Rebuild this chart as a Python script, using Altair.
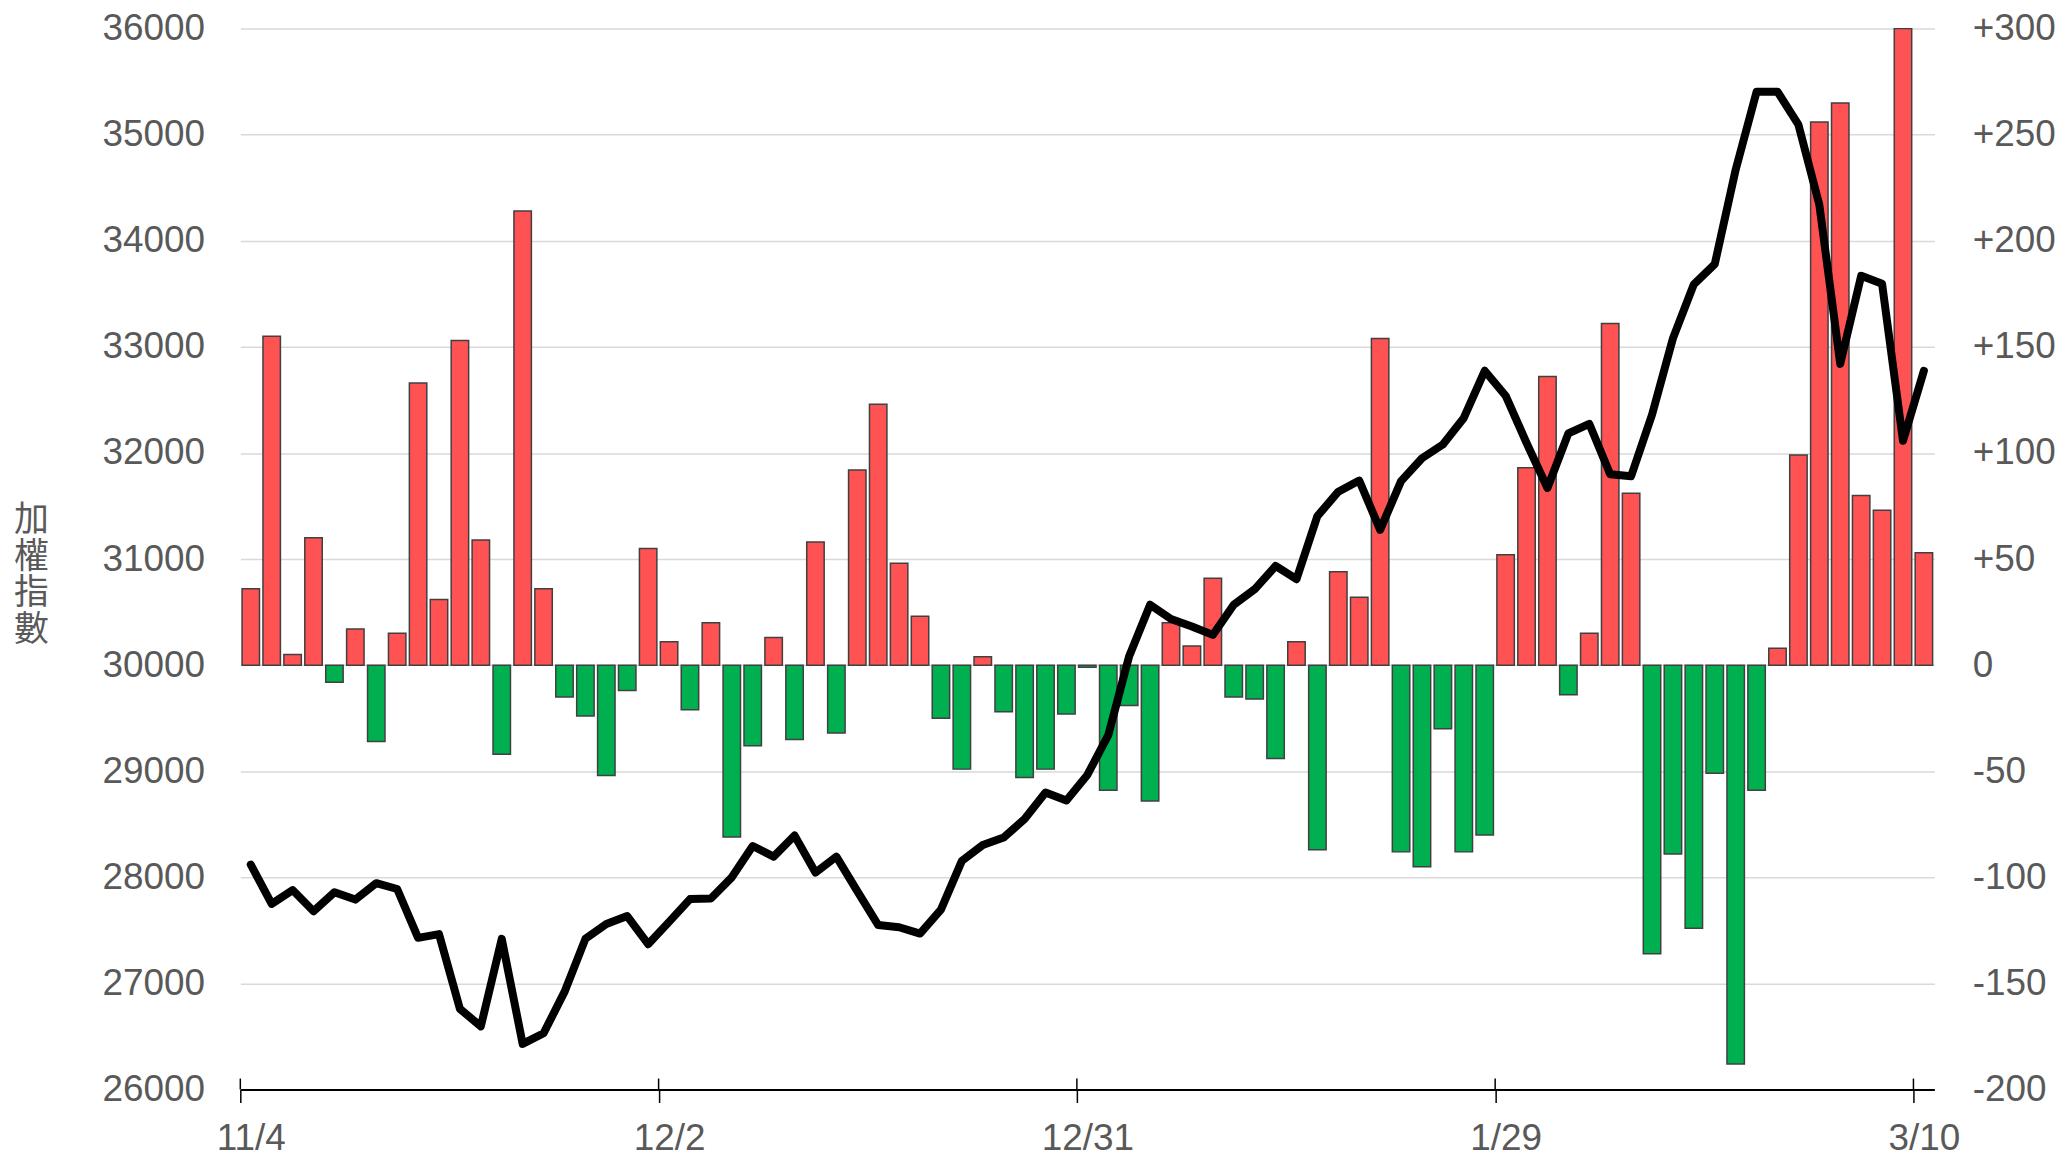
import altair as alt
import pandas as pd

# ---- data ----
tick_labels = ["11/4", "12/2", "12/31", "1/29", "3/10"]
tick_positions = [-0.5, 19.5, 39.5, 59.5, 79.5]

change = [36, 155, 5, 60, -8, 17, -36, 15, 133, 31,
          153, 59, -42, 214, 36, -15, -24, -52, -12, 55,
          11, -21, 20, -81, -38, 13, -35, 58, -32, 92,
          123, 48, 23, -25, -49, 4, -22, -53, -49, -23,
          -1, -59, -19, -64, 20, 9, 41, -15, -16, -44,
          11, -87, 44, 32, 154, -88, -95, -30, -88, -80,
          52, 93, 136, -14, 15, 161, 81, -136, -89, -124,
          -51, -188, -59, 8, 99, 256, 265, 80, 73, 300,
          53]

index_vals = [28120, 27750, 27880, 27680, 27860, 27790, 27945, 27890, 27430, 27465,
              26760, 26595, 27420, 26430, 26530, 26920, 27420, 27560, 27635, 27370,
              27580, 27795, 27800, 28000, 28295, 28195, 28395, 28045, 28195, 27870,
              27550, 27530, 27470, 27695, 28155, 28305, 28375, 28550, 28800, 28725,
              28965, 29340, 30085, 30570, 30435, 30365, 30285, 30570, 30715, 30935,
              30810, 31405, 31635, 31740, 31275, 31735, 31950, 32080, 32330, 32775,
              32540, 32095, 31670, 32185, 32275, 31800, 31780, 32360, 33080, 33590,
              33780, 34670, 35405, 35405, 35095, 34340, 32840, 33670, 33595, 32115,
              32775]

left_ticks = list(range(26000, 36001, 1000))
right_ticks = list(range(-200, 301, 50))
y_title = ["加", "權", "指", "數"]

df = pd.DataFrame({
    "i": list(range(len(change))),
    "change": change,
    "index": index_vals,
})
df["dir"] = ["up" if v >= 0 else "down" for v in change]
tick_df = pd.DataFrame({"i": tick_positions})

FONT = "Liberation Sans, Arial, 'Noto Sans CJK TC', sans-serif"
CJK_FONT = "'Noto Sans CJK TC', 'Noto Sans CJK SC', sans-serif"
GRAY = "#595959"
W, H = 1699, 1064

label_list = "[" + ",".join("'%s'" % t for t in tick_labels) + "]"
x_enc = alt.X(
    "i:Q",
    scale=alt.Scale(domain=[-0.5, len(change) - 0.5], nice=False, zero=False, padding=0),
    axis=alt.Axis(
        values=tick_positions,
        labelExpr=label_list + "[round((datum.value + 0.5) / 20)]",
        title=None, grid=False,
        domain=True, domainColor="black", domainWidth=2,
        ticks=True, tickColor="black", tickWidth=1.5, tickSize=13,
        labelPadding=18, labelFontSize=37, labelColor=GRAY, labelFont=FONT,
        labelOffset=10.5, labelFlush=False, labelOverlap=False,
    ),
)

bars = alt.Chart(df).mark_bar(size=17.5, stroke="#404040", strokeWidth=1.5).encode(
    x=x_enc,
    y=alt.Y(
        "change:Q",
        scale=alt.Scale(domain=[-200, 300], nice=False),
        axis=alt.Axis(
            orient="right", values=right_ticks,
            labelExpr="datum.value > 0 ? '+' + datum.value : '' + datum.value",
            grid=True, gridColor="#d9d9d9", gridWidth=1.5,
            ticks=False, tickSize=0, domain=False,
            labelPadding=38, labelFontSize=37, labelColor=GRAY, labelFont=FONT,
            title=None,
        ),
    ),
    color=alt.Color("dir:N", scale=alt.Scale(domain=["up", "down"], range=["#FF5252", "#00B050"]), legend=None),
)

line = alt.Chart(df).mark_line(color="black", strokeWidth=8, strokeJoin="round", strokeCap="round").encode(
    x=x_enc,
    y=alt.Y(
        "index:Q",
        scale=alt.Scale(domain=[26000, 36000], nice=False, zero=False),
        axis=alt.Axis(
            orient="left", values=left_ticks, format="d",
            grid=False, ticks=False, tickSize=0, domain=False,
            labelPadding=36, labelFontSize=37, labelColor=GRAY, labelFont=FONT,
            title=y_title, titleAngle=0, titleFontSize=35, titleLineHeight=37,
            titleFontWeight="normal", titleColor=GRAY, titleFont=CJK_FONT,
            titleX=-210, titleY=492, titleAlign="center", titleBaseline="middle",
        ),
    ),
)

inner_ticks = alt.Chart(tick_df).mark_rule(color="black", strokeWidth=1.5).encode(
    x=x_enc,
    y=alt.value(H - 11),
    y2=alt.value(H),
)

chart = alt.layer(bars, line, inner_ticks).resolve_scale(y="independent").properties(
    width=W, height=H,
    padding={"left": 5, "top": 0, "right": 0, "bottom": 0},
    background="white",
).configure_view(stroke=None)

chart.save("out.html", embed_options={"renderer": "svg", "actions": False})
